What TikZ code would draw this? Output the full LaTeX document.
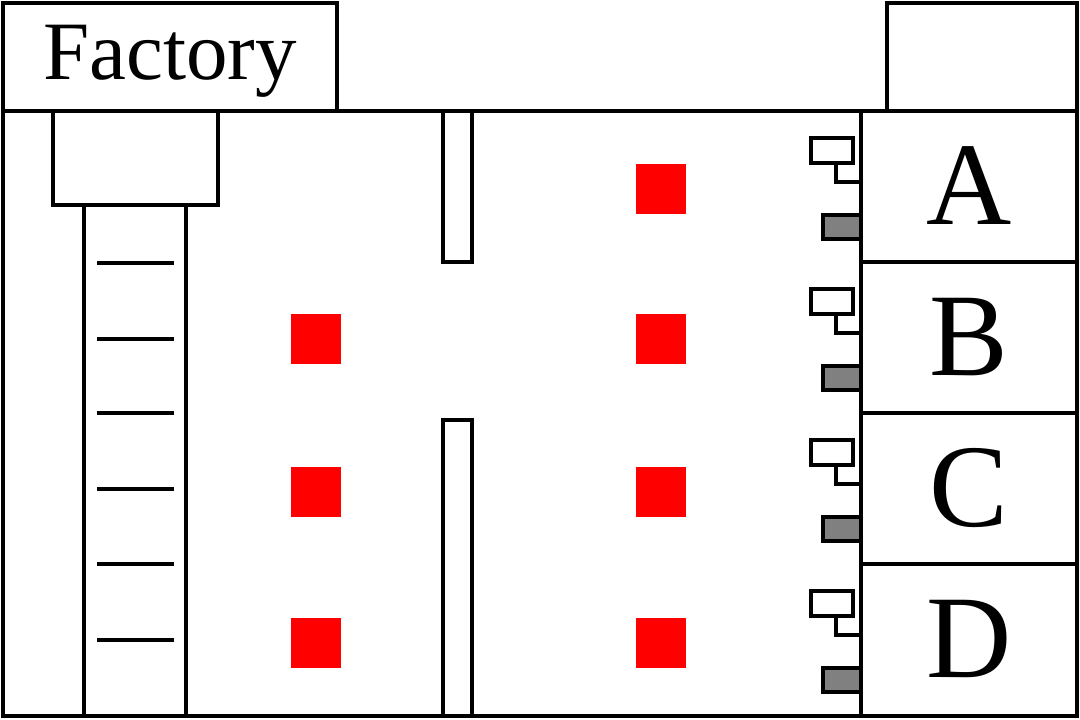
\documentclass[tikz,border=0pt]{standalone}
\usepackage{fontspec}
\setmainfont{Liberation Serif}
\begin{document}
\begin{tikzpicture}[x=1pt,y=-1pt,line width=4.3pt,line join=miter,
  wall/.style={draw=black,fill=white},
  crate/.style={fill=red,draw=none,minimum size=50pt,inner sep=0pt},
  bigletter/.style={font=\fontsize{118}{118}\selectfont,inner sep=0pt},
  whiteicon/.style={draw=black,fill=white,line width=3.8pt},
  grayicon/.style={draw=black,fill=gray,line width=3.8pt}]
\useasboundingbox (0,0) rectangle (1080,720);
% outer frame
\draw (3,111) rectangle (1077,716);
% factory box
\draw[wall] (3,3) rectangle (337,111);
\node[font=\fontsize{83}{83}\selectfont,inner sep=0pt] (factory) at (170,61) {Factory};
% top-right box
\draw[wall] (887,3) rectangle (1077,111);
% inner top-left box
\draw (53,111) rectangle (218,205);
% ladder rails
\draw (84,205) -- (84,716);
\draw (186,205) -- (186,716);
\foreach \y in {263,339,413,489,564,640}
  \draw (97,\y) -- (174,\y);
% walls
\draw[wall] (443,111) rectangle (472,262);
\draw[wall] (443,420) rectangle (472,716);
% red crates
\node[crate] (r1) at (660.5,189) {};
\node[crate] (r2) at (660.5,339) {};
\node[crate] (r3) at (660.5,492) {};
\node[crate] (r4) at (660.5,643) {};
\node[crate] (l2) at (315.5,339) {};
\node[crate] (l3) at (315.5,492) {};
\node[crate] (l4) at (315.5,643) {};
% right column
\draw (861,111) -- (861,716);
\foreach \y in {262,413,564}
  \draw (861,\y) -- (1077,\y);
\node[bigletter] (A) at (969,186) {A};
\node[bigletter] (B) at (969,337) {B};
\node[bigletter] (C) at (969,488) {C};
\node[bigletter] (D) at (969,639) {D};
% icons
\foreach \t in {111,262,413,564} {
  \draw[line width=3.8pt] (836,\t+52) -- (836,\t+71) -- (861,\t+71);
  \draw[whiteicon] (811,\t+27) rectangle (853,\t+52);
  \draw[grayicon] (823,\t+104) rectangle (861,\t+128);
}
\end{tikzpicture}
\end{document}
